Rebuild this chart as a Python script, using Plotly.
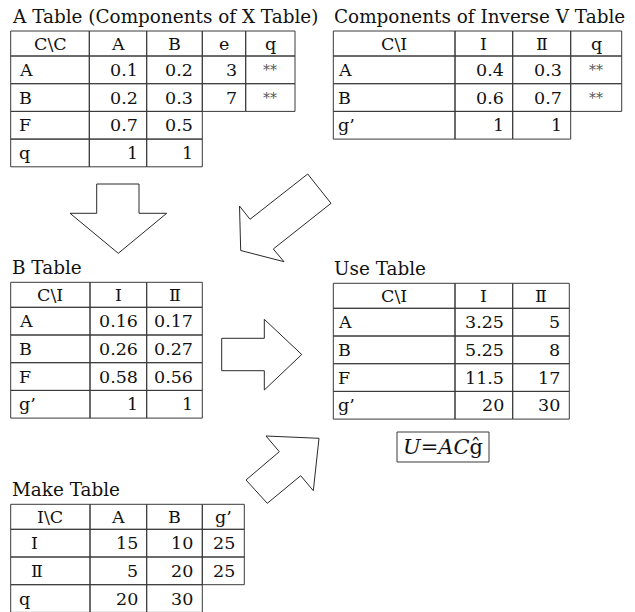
import plotly.graph_objects as go

# ---------------- data ----------------
a_title = "A Table (Components of X Table)"
a_cols = ["C\\C", "A", "B", "e", "q"]
a_rows = ["A", "B", "F", "q"]
a_vals = [[0.1, 0.2, 3, "**"], [0.2, 0.3, 7, "**"], [0.7, 0.5], [1, 1]]

v_title = "Components of Inverse V Table"
v_cols = ["C\\Ⅰ", "Ⅰ", "Ⅱ", "q"]
v_rows = ["A", "B", "g’"]
v_vals = [[0.4, 0.3, "**"], [0.6, 0.7, "**"], [1, 1]]

b_title = "B Table"
b_cols = ["C\\Ⅰ", "Ⅰ", "Ⅱ"]
b_rows = ["A", "B", "F", "g’"]
b_vals = [[0.16, 0.17], [0.26, 0.27], [0.58, 0.56], [1, 1]]

u_title = "Use Table"
u_cols = ["C\\Ⅰ", "Ⅰ", "Ⅱ"]
u_rows = ["A", "B", "F", "g’"]
u_vals = [[3.25, 5], [5.25, 8], [11.5, 17], [20, 30]]

m_title = "Make Table"
m_cols = ["Ⅰ\\C", "A", "B", "g’"]
m_rows = ["Ⅰ", "Ⅱ", "q"]
m_vals = [[15, 10, 25], [5, 20, 25], [20, 30]]

formula = "<i>U</i>=<i>AC</i>ĝ"

# ---------------- layout / style ----------------
W, H = 635, 612
FONT = "DejaVu Serif, Liberation Serif, serif"
INK = "#111111"
LINE = "#3a3a3a"
HDR_H = 25.0
ROW_H = 27.7
CELL_FS = 17.5
TITLE_FS = 18.4

tables = [
    dict(title=a_title, cols=a_cols, rows=a_rows, vals=a_vals, x0=10.7, y0=31.0,
         widths=[78.6, 57.4, 55.6, 43.4, 49.3], lpad=6),
    dict(title=v_title, cols=v_cols, rows=v_rows, vals=v_vals, x0=333.3, y0=31.0,
         widths=[121.7, 57.7, 58.0, 51.0], lpad=3),
    dict(title=b_title, cols=b_cols, rows=b_rows, vals=b_vals, x0=10.7, y0=282.3,
         widths=[79.3, 56.7, 55.6], lpad=6),
    dict(title=u_title, cols=u_cols, rows=u_rows, vals=u_vals, x0=333.3, y0=283.3,
         widths=[121.7, 57.7, 56.6], lpad=3),
    dict(title=m_title, cols=m_cols, rows=m_rows, vals=m_vals, x0=10.7, y0=504.3,
         widths=[79.3, 56.7, 55.6, 42.0], lpad=6),
]

arrows = [
    [(96.7, 184), (139, 184), (139, 213.3), (166.7, 213.3), (118.3, 253.3), (70, 213.3), (96.7, 213.3)],
    [(307.7, 174), (331, 203.3), (273.3, 249), (284, 261.7), (240.7, 250.5), (239.5, 206), (250, 219.3)],
    [(221.7, 338.3), (264.3, 338.3), (264.3, 319.3), (301.7, 354.5), (264.3, 390), (264.3, 370.7), (221.7, 370.7)],
    [(266, 436), (319, 438.3), (313.3, 490.7), (300.7, 475.7), (267.3, 503.3), (246, 480), (279.3, 451.7)],
]

formula_box = (397, 432, 489, 462)


def fmt(v):
    if isinstance(v, str):
        return v
    if float(v).is_integer():
        return str(int(v))
    return f"{v:g}"


shapes = []
annotations = []


def add_text(x, y, text, anchor="center", size=CELL_FS, color=INK):
    annotations.append(dict(
        x=x, y=y, xref="x", yref="y", text=text, showarrow=False,
        xanchor=anchor, yanchor="middle",
        font=dict(family=FONT, size=size, color=color),
    ))


for t in tables:
    x0, y0, widths = t["x0"], t["y0"], t["widths"]
    xs = [x0]
    for w in widths:
        xs.append(xs[-1] + w)
    ys = [y0, y0 + HDR_H]
    for _ in t["rows"]:
        ys.append(ys[-1] + ROW_H)
    # title
    add_text(x0 - 1, y0 - 15, t["title"], anchor="left", size=TITLE_FS)
    # header
    for j, c in enumerate(t["cols"]):
        shapes.append(dict(type="rect", xref="x", yref="y", x0=xs[j], x1=xs[j + 1],
                           y0=ys[0], y1=ys[1], line=dict(color=LINE, width=1)))
        add_text((xs[j] + xs[j + 1]) / 2, (ys[0] + ys[1]) / 2, c)
    # body rows
    for i, (lab, vals) in enumerate(zip(t["rows"], t["vals"])):
        yt, yb = ys[i + 1], ys[i + 2]
        ym = (yt + yb) / 2
        shapes.append(dict(type="rect", xref="x", yref="y", x0=xs[0], x1=xs[1],
                           y0=yt, y1=yb, line=dict(color=LINE, width=1)))
        pad = t["lpad"] + (12 if lab in ("Ⅰ", "Ⅱ") else 0)
        add_text(xs[0] + pad, ym, lab, anchor="left")
        for j, v in enumerate(vals):
            xa, xb = xs[j + 1], xs[j + 2]
            shapes.append(dict(type="rect", xref="x", yref="y", x0=xa, x1=xb,
                               y0=yt, y1=yb, line=dict(color=LINE, width=1)))
            s = fmt(v)
            if s == "**":
                add_text((xa + xb) / 2, ym, s, size=14, color="#555555")
            else:
                add_text(xb - 7, ym, s, anchor="right")

for pts in arrows:
    path = "M " + " L ".join(f"{x},{y}" for x, y in pts) + " Z"
    shapes.append(dict(type="path", xref="x", yref="y", path=path,
                       line=dict(color="#2a2a2a", width=1), fillcolor="white"))

bx0, by0, bx1, by1 = formula_box
shapes.append(dict(type="rect", xref="x", yref="y", x0=bx0, x1=bx1, y0=by0, y1=by1,
                   line=dict(color=LINE, width=1)))
add_text((bx0 + bx1) / 2, (by0 + by1) / 2, formula, size=21)

fig = go.Figure()
fig.update_layout(
    width=W, height=H,
    margin=dict(l=0, r=0, t=0, b=0),
    paper_bgcolor="white", plot_bgcolor="white",
    xaxis=dict(range=[0, W], visible=False, fixedrange=True),
    yaxis=dict(range=[H, 0], visible=False, fixedrange=True),
    shapes=shapes, annotations=annotations, showlegend=False,
)
fig.write_html(
    "out.html",
    config={"displayModeBar": False},
    post_script="document.body.style.margin='0px';document.body.style.overflow='hidden';",
)
